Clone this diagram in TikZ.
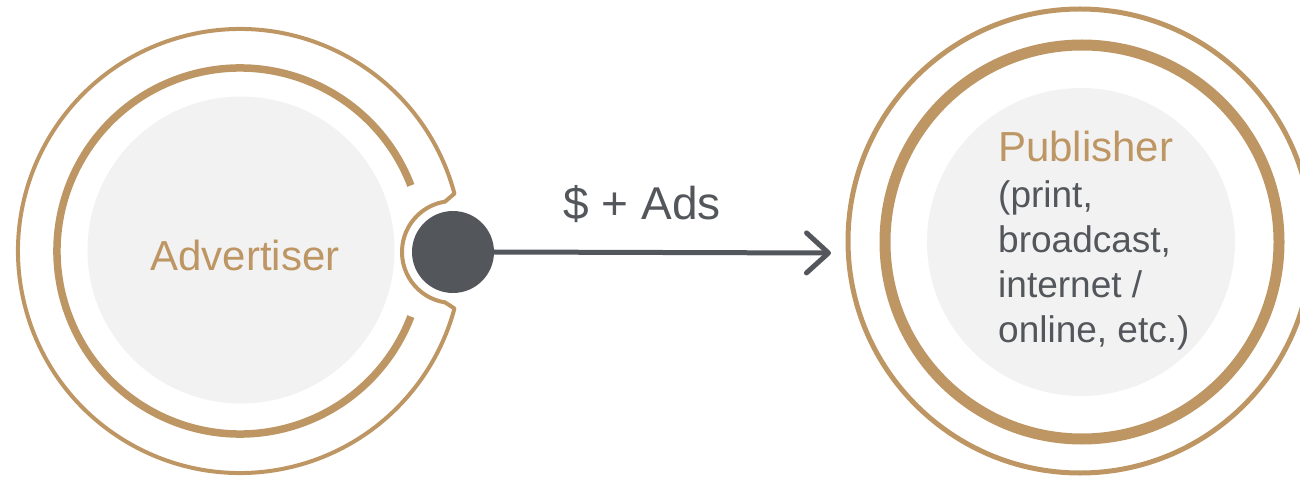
\documentclass[tikz,border=0pt]{standalone}
\usepackage{fontspec}
\setmainfont{Liberation Sans}
\usetikzlibrary{arrows.meta}
\definecolor{gold}{HTML}{BD9664}
\definecolor{darkgray}{HTML}{53565A}
\definecolor{lightfill}{HTML}{F2F2F2}
\tikzset{
  goldring/.style={draw=gold, line cap=butt},
  innerdisc/.style={circle, fill=lightfill, draw=none, inner sep=0pt},
  golddtext/.style={text=gold, inner sep=0pt},
  graytext/.style={text=darkgray, inner sep=0pt},
  connector/.style={draw=darkgray, line width=5pt, line cap=round,
    -{Straight Barb[length=22pt, width=40pt, line cap=round, line join=round]}},
}
\begin{document}
\begin{tikzpicture}[x=1pt, y=1pt]
\useasboundingbox (0,0) rectangle (1300,477);
\clip (0,0) rectangle (1300,477);
% ---------- Left (Advertiser) ----------
\node[innerdisc, minimum size=307pt] (advdisc) at (241,227) {};
\draw[goldring, line width=7.5pt] (240,226) ++(21:183pt) arc[start angle=21, end angle=339, radius=183pt];
\draw[goldring, line width=4pt, line join=round]
  (240,226) ++(15:222pt) arc[start angle=15, end angle=345, radius=222pt]
  -- (445,174.6) arc[start angle=261, end angle=99, radius=51pt] -- cycle;
\node[circle, fill=darkgray, minimum size=82pt, inner sep=0pt] (dot) at (453,225) {};
\node[golddtext, anchor=base, font=\fontsize{42}{45}\selectfont] (adv) at (245,207) {Advertiser};
% ---------- Right (Publisher) ----------
\node[innerdisc, minimum size=308pt] (pubdisc) at (1081,235) {};
\draw[goldring, line width=11pt] (1082,235) circle[radius=197pt];
\draw[goldring, line width=5pt] (1080,236) circle[radius=232pt];
\node[golddtext, anchor=base west, font=\fontsize{42}{45}\selectfont] (pub) at (998,315) {Publisher};
\node[graytext, anchor=base west, align=left, font=\fontsize{37}{45}\selectfont] (pubdesc) at (998,135)
  {(print,\\broadcast,\\internet /\\online, etc.)};
% ---------- Connector ----------
\coordinate (tip) at (831,224);
\draw[connector] (dot.east) -- (tip);
\node[graytext, anchor=base, font=\fontsize{46}{50}\selectfont] (lbl) at (642,257) {\$ + Ads};
\end{tikzpicture}
\end{document}
